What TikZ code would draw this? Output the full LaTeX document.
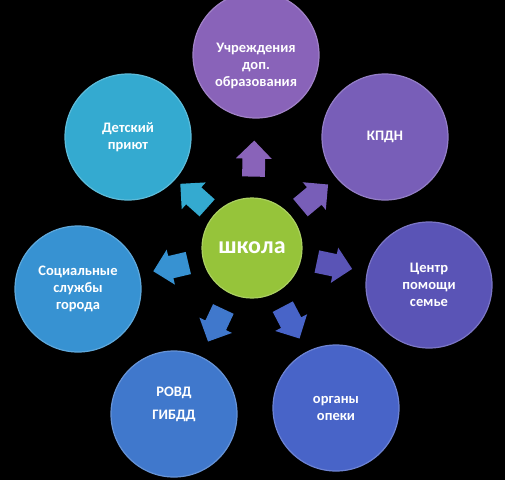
\documentclass[tikz,border=0pt]{standalone}
\usepackage{fontspec}
\setmainfont{Carlito}
\usetikzlibrary{shapes.arrows}

\definecolor{schoolcol}{RGB}{150,196,58}
\definecolor{uchrcol}{RGB}{137,99,185}
\definecolor{kpdncol}{RGB}{120,94,184}
\definecolor{centrcol}{RGB}{90,84,182}
\definecolor{opekacol}{RGB}{72,100,200}
\definecolor{rovdcol}{RGB}{64,120,204}
\definecolor{socialcol}{RGB}{55,146,210}
\definecolor{priyutcol}{RGB}{52,170,208}

\tikzset{
  ball/.style={circle, minimum size=126pt, inner sep=0pt, fill=#1,
    draw=#1!80!white, line width=1.2pt, text=white, align=center,
    font=\bfseries\fontsize{14.5}{17}\selectfont},
  blockarrow/.style={single arrow, fill=#1, draw=none, inner sep=0pt,
    text height=11pt, text depth=11pt, minimum width=36pt,
    minimum height=36pt, single arrow head extend=6.5pt,
    sloped, allow upside down, pos=0.42}
}

\begin{document}
\begin{tikzpicture}[x=1pt, y=-1pt]
    \useasboundingbox (0,0) rectangle (505,480);
    \fill[black] (0,0) rectangle (505,480);
    % centre
    \node[ball=schoolcol, minimum size=100pt, font=\bfseries\fontsize{24}{28}\selectfont]
        (school) at (252,248) {школа};
    % outer circles
    \node[ball=uchrcol] (uchr) at (256,55) {\rule{0pt}{32pt}Учреждения\\доп.\\образования};
    \node[ball=kpdncol] (kpdn) at (385,137) {КПДН};
    \node[ball=centrcol] (centr) at (429,285) {Центр\\помощи\\семье};
    \node[ball=opekacol] (opeka) at (336,408) {органы\\опеки};
    \node[ball=rovdcol] (rovd) at (174,414) {РОВД\\[6pt]ГИБДД\\[4pt]~};
    \node[ball=socialcol] (social) at (78,289) {Социальные\\службы\\города};
    \node[ball=priyutcol] (priyut) at (128,137) {Детский\\приют};
    % arrows
    \path (school) -- (uchr) node[blockarrow=uchrcol] (a1) {};
    \path (school) -- (kpdn) node[blockarrow=kpdncol] (a2) {};
    \path (school) -- (centr) node[blockarrow=centrcol] (a3) {};
    \path (school) -- (opeka) node[blockarrow=opekacol] (a4) {};
    \path (school) -- (rovd) node[blockarrow=rovdcol] (a5) {};
    \path (school) -- (social) node[blockarrow=socialcol] (a6) {};
    \path (school) -- (priyut) node[blockarrow=priyutcol] (a7) {};
\end{tikzpicture}
\end{document}
